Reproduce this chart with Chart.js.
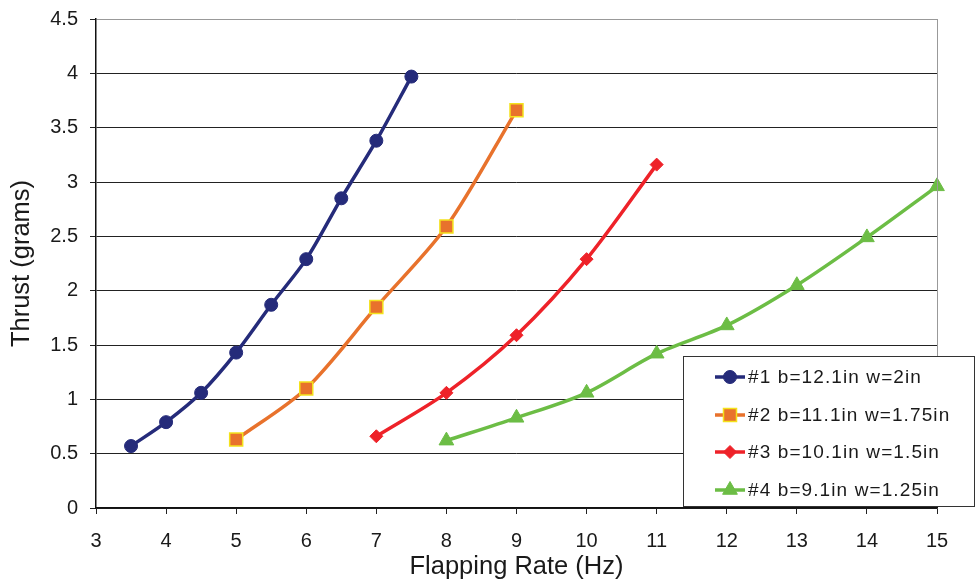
<!DOCTYPE html>
<html>
<head>
<meta charset="utf-8">
<script src="https://cdn.jsdelivr.net/npm/chart.js@4"></script>
<style>
  html, body { margin: 0; padding: 0; background: #fff; }
  #wrap { width: 976px; height: 587px; }
</style>
</head>
<body>
<div id="wrap"><canvas id="thrustChart" width="976" height="587"></canvas></div>
<script>
// flapping rate (Hz) and thrust (grams) per wing
const seriesNames = ['#1 b=12.1in w=2in', '#2 b=11.1in w=1.75in', '#3 b=10.1in w=1.5in', '#4 b=9.1in w=1.25in'];
const rate1 = [3.5, 4, 4.5, 5, 5.5, 6, 6.5, 7, 7.5];
const thrust1 = [0.57, 0.79, 1.06, 1.43, 1.87, 2.29, 2.85, 3.38, 3.97];
const rate2 = [5, 6, 7, 8, 9];
const thrust2 = [0.63, 1.10, 1.85, 2.59, 3.66];
const rate3 = [7, 8, 9, 10, 11];
const thrust3 = [0.66, 1.06, 1.59, 2.29, 3.16];
const rate4 = [8, 9, 10, 11, 12, 13, 14, 15];
const thrust4 = [0.62, 0.83, 1.06, 1.42, 1.68, 2.05, 2.49, 2.96];
const xTicks = [3, 4, 5, 6, 7, 8, 9, 10, 11, 12, 13, 14, 15];
const yTicks = [0, 0.5, 1, 1.5, 2, 2.5, 3, 3.5, 4, 4.5];

const FONT = 'Liberation Sans, Arial, sans-serif';

function toPoints(xs, ys) {
    return xs.map((x, i) => ({x: x, y: ys[i]}));
}

const styles = [
    {color: '#252b7a', fill: '#252b7a', border: '#252b7a', pointStyle: 'circle', radius: 6.5, bw: 1},
    {color: '#e8722c', fill: '#e8722c', border: '#f4e21c', pointStyle: 'rect', radius: 9.2, bw: 1.5},
    {color: '#ee2229', fill: '#ee2229', border: '#ee2229', pointStyle: 'rectRot', radius: 6.5, bw: 1},
    {color: '#6cbd45', fill: '#6cbd45', border: '#6cbd45', pointStyle: 'triangle', radius: 8.5, bw: 1}
];

const seriesData = [
    toPoints(rate1, thrust1),
    toPoints(rate2, thrust2),
    toPoints(rate3, thrust3),
    toPoints(rate4, thrust4)
];

const datasets = seriesData.map((d, i) => ({
    label: seriesNames[i],
    data: d,
    borderColor: styles[i].color,
    backgroundColor: styles[i].fill,
    borderWidth: 3.5,
    tension: 0.3,
    pointStyle: styles[i].pointStyle,
    pointRadius: styles[i].radius,
    pointBackgroundColor: styles[i].fill,
    pointBorderColor: styles[i].border,
    pointBorderWidth: styles[i].bw,
    clip: false
}));

// legend box sitting over the lower right of the plot
const boxLegend = {
    id: 'boxLegend',
    afterDraw(chart) {
        const ctx = chart.ctx;
        const left = 683, top = 356, right = 975, bottom = 507;
        ctx.save();
        ctx.fillStyle = '#fff';
        ctx.fillRect(left, top, right - left, bottom - top);
        ctx.strokeStyle = '#333';
        ctx.lineWidth = 1;
        ctx.strokeRect(left + 0.5, top + 0.5, right - left - 1, bottom - top - 1);
        const rows = [377, 415, 452, 490];
        seriesNames.forEach((name, i) => {
            const st = styles[i];
            const y = rows[i];
            ctx.strokeStyle = st.color;
            ctx.lineWidth = 3.5;
            ctx.beginPath();
            ctx.moveTo(715, y);
            ctx.lineTo(745, y);
            ctx.stroke();
            ctx.fillStyle = st.fill;
            ctx.strokeStyle = st.border;
            ctx.lineWidth = st.bw;
            Chart.helpers.drawPoint(ctx, {pointStyle: st.pointStyle, radius: st.radius, rotation: 0, borderWidth: st.bw}, 730, y);
            ctx.fillStyle = '#1a1a1a';
            ctx.font = '19px ' + FONT;
            ctx.textBaseline = 'middle';
            ctx.textAlign = 'left';
            ctx.letterSpacing = '1.1px';
            ctx.fillText(name, 748, y + 1);
        });
        // right border of the plot
        const area = chart.chartArea;
        ctx.strokeStyle = '#999';
        ctx.lineWidth = 1;
        ctx.beginPath();
        ctx.moveTo(Math.round(area.right) + 0.5, area.top);
        ctx.lineTo(Math.round(area.right) + 0.5, top);
        ctx.stroke();
        ctx.restore();
    }
};

new Chart(document.getElementById('thrustChart'), {
    type: 'line',
    data: {datasets: datasets},
    plugins: [boxLegend],
    options: {
        responsive: false,
        animation: false,
        layout: {padding: {top: 19, right: 39, left: 0, bottom: 0}},
        plugins: {
            legend: {display: false},
            tooltip: {enabled: false}
        },
        scales: {
            x: {
                type: 'linear',
                min: 3,
                max: 15,
                afterBuildTicks: (axis) => { axis.ticks = xTicks.map(v => ({value: v})); },
                afterFit: (axis) => { axis.height = 79; },
                grid: {
                    drawOnChartArea: false,
                    tickLength: 6,
                    tickColor: '#222'
                },
                border: {color: '#111', width: 1.5},
                ticks: {
                    color: '#1a1a1a',
                    font: {family: FONT, size: 20},
                    padding: 15,
                    maxRotation: 0,
                    callback: (v) => String(v)
                },
                title: {
                    display: true,
                    text: 'Flapping Rate (Hz)',
                    color: '#1a1a1a',
                    font: {family: FONT, size: 25.5},
                    padding: {top: 0, bottom: 5}
                }
            },
            y: {
                min: 0,
                max: 4.5,
                afterBuildTicks: (axis) => { axis.ticks = yTicks.map(v => ({value: v})); },
                afterFit: (axis) => {
                    axis.width = 96;
                    axis.paddingTop = 0;
                    axis.paddingBottom = 0;
                },
                grid: {
                    color: (c) => c.tick && c.tick.value === 4.5 ? '#999' : '#222',
                    tickColor: '#222',
                    lineWidth: 1,
                    tickLength: 6
                },
                border: {color: '#111', width: 1.5},
                ticks: {
                    color: '#1a1a1a',
                    font: {family: FONT, size: 20},
                    padding: 12,
                    callback: (v) => String(v)
                },
                title: {
                    display: true,
                    text: 'Thrust (grams)',
                    color: '#1a1a1a',
                    font: {family: FONT, size: 25.5},
                    padding: {top: 7, bottom: 0}
                }
            }
        }
    }
});
</script>
</body>
</html>
